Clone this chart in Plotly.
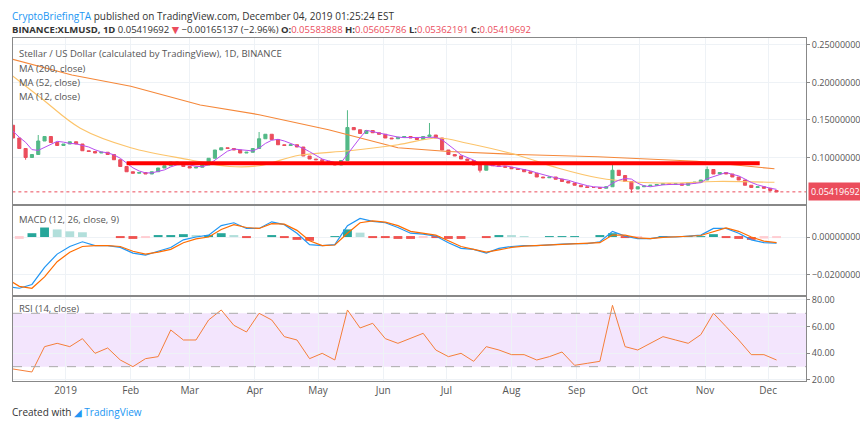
import pandas as pd
import plotly.graph_objects as go
from plotly.subplots import make_subplots

# ---- data (3-day candles) ----
candle_start = "2018-12-04"
closes = [0.143,0.126,0.112,0.100,0.104,0.122,0.128,0.120,0.116,0.118,
          0.121,0.118,0.109,0.108,0.106,0.107,0.104,0.097,0.088,0.081,
          0.079,0.080,0.078,0.081,0.086,0.089,0.094,0.092,0.088,0.086,
          0.087,0.090,0.099,0.110,0.113,0.112,0.110,0.106,0.107,0.112,
          0.125,0.131,0.124,0.117,0.116,0.117,0.114,0.102,0.098,0.097,
          0.095,0.092,0.090,0.096,0.140,0.137,0.132,0.136,0.133,0.131,
          0.126,0.125,0.127,0.128,0.126,0.124,0.128,0.130,0.126,0.110,
          0.104,0.102,0.098,0.096,0.090,0.083,0.092,0.089,0.088,0.087,
          0.085,0.084,0.081,0.079,0.074,0.073,0.074,0.071,0.068,0.066,
          0.063,0.061,0.060,0.060,0.059,0.061,0.083,0.076,0.068,0.058,
          0.061,0.062,0.063,0.064,0.065,0.064,0.065,0.063,0.066,0.067,
          0.070,0.084,0.078,0.080,0.078,0.074,0.070,0.063,0.060,0.061,
          0.059,0.056,0.0542]
first_open = 0.150
spike_highs = {54: 0.163, 67: 0.146, 96: 0.092, 111: 0.088, 40: 0.134, 5: 0.13}
spike_lows = {3: 0.097, 99: 0.053, 75: 0.080}

ma200_dates = ["2018-12-04","2019-01-04","2019-02-01","2019-03-06","2019-04-03","2019-05-06",
               "2019-06-08","2019-07-02","2019-08-04","2019-09-11","2019-10-28","2019-12-04"]
ma200_vals = [0.233,0.210,0.195,0.170,0.157,0.137,0.113,0.108,0.104,0.101,0.095,0.085]
ma52_dates = ["2018-12-04","2018-12-20","2019-01-08","2019-02-01","2019-03-01","2019-03-20",
              "2019-04-03","2019-04-22","2019-05-16","2019-06-08","2019-06-27","2019-07-11",
              "2019-08-04","2019-08-23","2019-09-11","2019-09-30","2019-10-18","2019-11-06","2019-12-04"]
ma52_vals = [0.215,0.180,0.139,0.113,0.097,0.088,0.089,0.103,0.109,0.117,0.126,0.119,
             0.103,0.086,0.073,0.067,0.066,0.068,0.067]

macd_vals = [-0.026,-0.027,-0.025,-0.016,-0.009,-0.005,-0.0025,-0.0045,-0.0045,-0.0055,
             -0.0085,-0.0095,-0.0075,-0.0055,-0.0015,0.0,0.001,0.006,0.0075,0.0045,
             0.0045,0.008,0.0065,0.002,-0.004,-0.0045,-0.004,0.006,0.0098,0.0082,
             0.0075,0.005,0.002,0.0015,0.0005,-0.003,-0.006,-0.0065,-0.0085,-0.006,
             -0.005,-0.0045,-0.0045,-0.004,-0.0038,-0.0035,-0.0035,-0.0025,0.003,0.0005,
             -0.0008,-0.0008,0.0002,0.0,0.0005,0.001,0.0045,0.0045,0.002,-0.0015,
             -0.003,-0.0032]
signal_vals = [-0.022,-0.026,-0.027,-0.021,-0.013,-0.008,-0.005,-0.0045,-0.0045,-0.005,
               -0.0075,-0.009,-0.008,-0.0065,-0.003,-0.001,0.0,0.004,0.0065,0.005,
               0.0045,0.007,0.0068,0.0035,-0.002,-0.0045,-0.0042,0.002,0.0075,0.0085,
               0.0078,0.006,0.003,0.002,0.001,-0.002,-0.005,-0.0065,-0.008,-0.0068,
               -0.0055,-0.0048,-0.0045,-0.0042,-0.004,-0.0037,-0.0035,-0.003,0.001,0.001,
               -0.0005,-0.0008,-0.0002,0.0,0.0004,0.0008,0.003,0.0048,0.003,0.0,
               -0.0022,-0.003]
rsi_vals = [29,27.5,26,45,47.5,45,51,40,44,35,30,36,37.5,57.5,50,50,65,72.5,61,56,
            70,65,52.5,50,36,40,35,72.5,59,62.5,51,47.5,51,55,42.5,37.5,40,34,45,42.5,
            39,39,35,37.5,41,31,32.5,34,76,45,42.5,47.5,52.5,50,47.5,54,70,60,50,39,39,35]

level_line = {"start": "2019-01-30", "end": "2019-11-27", "price": 0.0925}
month_ticks = ["2019-01-01","2019-02-01","2019-03-01","2019-04-01","2019-05-01","2019-06-01",
               "2019-07-01","2019-08-01","2019-09-01","2019-10-01","2019-11-01","2019-12-01"]
month_labels = ["2019","Feb","Mar","Apr","May","Jun","Jul","Aug","Sep","Oct","Nov","Dec"]

# ---- build series ----
dates = pd.date_range(candle_start, periods=len(closes), freq="3D")
opens = [first_open] + closes[:-1]
highs = [spike_highs.get(i, max(o, c)) for i, (o, c) in enumerate(zip(opens, closes))]
lows = [spike_lows.get(i, min(o, c)) for i, (o, c) in enumerate(zip(opens, closes))]
ma12 = pd.Series(closes).rolling(4, min_periods=1).mean()
ind_dates = dates[::2]
hist = [m - s for m, s in zip(macd_vals, signal_vals)]
hcol = []
for i, h in enumerate(hist):
    prev = hist[i - 1] if i else h
    if h >= 0:
        hcol.append("#26a69a" if h >= prev else "#b2dfdb")
    else:
        hcol.append("#ef5350" if h <= prev else "#ffcdd2")

fig = make_subplots(rows=3, cols=1, shared_xaxes=True, vertical_spacing=0.0)
UP, DN = "#53b987", "#eb4d5c"
fig.add_trace(go.Candlestick(x=dates, open=opens, high=highs, low=lows, close=closes,
                             increasing=dict(line=dict(color=UP, width=1), fillcolor=UP),
                             decreasing=dict(line=dict(color=DN, width=1), fillcolor=DN),
                             whiskerwidth=0, showlegend=False), row=1, col=1)
fig.add_trace(go.Scatter(x=ma200_dates, y=ma200_vals, mode="lines", line=dict(color="#f5883a", width=1.2), showlegend=False), row=1, col=1)
fig.add_trace(go.Scatter(x=ma52_dates, y=ma52_vals, mode="lines", line=dict(color="#fcc46b", width=1.2, shape="spline"), showlegend=False), row=1, col=1)
fig.add_trace(go.Scatter(x=dates, y=ma12, mode="lines", line=dict(color="#b84ef0", width=1), showlegend=False), row=1, col=1)
fig.add_trace(go.Scatter(x=[level_line["start"], level_line["end"]], y=[level_line["price"]] * 2, mode="lines",
                         line=dict(color="#ff0000", width=4), showlegend=False), row=1, col=1)
fig.add_trace(go.Scatter(x=["2018-12-01", "2019-12-25"], y=[closes[-1]] * 2, mode="lines",
                         line=dict(color="#eb4d5c", width=1, dash="dot"), showlegend=False), row=1, col=1)

fig.add_trace(go.Bar(x=ind_dates, y=hist, marker=dict(color=hcol, line=dict(width=0)), showlegend=False), row=2, col=1)
fig.add_trace(go.Scatter(x=ind_dates, y=macd_vals, mode="lines", line=dict(color="#2196f3", width=1.2), showlegend=False), row=2, col=1)
fig.add_trace(go.Scatter(x=ind_dates, y=signal_vals, mode="lines", line=dict(color="#ff6d00", width=1.2), showlegend=False), row=2, col=1)

fig.add_trace(go.Scatter(x=ind_dates, y=rsi_vals, mode="lines", line=dict(color="#f57f3a", width=1), showlegend=False), row=3, col=1)

xr = ["2018-12-07", "2019-12-19"]
fig.add_shape(type="rect", xref="paper", x0=0, x1=1, yref="y3", y0=30, y1=70,
              fillcolor="#f3e5fd", line=dict(width=0), layer="below")
for v in (30, 70):
    fig.add_shape(type="line", xref="paper", x0=0, x1=1, yref="y3", y0=v, y1=v,
                  line=dict(color="#aaaaaa", width=1, dash="dash"))

grid = "#eef2f6"
fig.update_layout(width=868, height=421, margin=dict(l=5, r=70, t=30, b=48),
                  paper_bgcolor="white", plot_bgcolor="white", bargap=0.3,
                  font=dict(family="Open Sans, DejaVu Sans", size=10, color="#555"))
axcommon = dict(range=xr, showgrid=True, gridcolor=grid, tickvals=month_ticks, ticktext=month_labels,
                showline=True, linecolor="#888", mirror=True, rangeslider=dict(visible=False), ticks="")
fig.update_xaxes(**axcommon)
fig.update_xaxes(showticklabels=False, row=1, col=1)
fig.update_xaxes(showticklabels=False, row=2, col=1)
fig.update_xaxes(showticklabels=True, tickfont=dict(size=10, color="#555"), row=3, col=1)
ycommon = dict(side="right", showgrid=True, gridcolor=grid, showline=True, linecolor="#888", mirror=True,
               tickfont=dict(size=9, color="#555"), zeroline=False, ticks="outside", ticklen=3, tickcolor="#888")
fig.update_yaxes(**ycommon)
fig.update_yaxes(domain=[0.516, 1.0], range=[0.038, 0.2593], tickvals=[0.10, 0.15, 0.20, 0.25],
                 tickformat=".8f", row=1, col=1)
fig.update_yaxes(domain=[0.251, 0.510], range=[-0.0305, 0.0163], tickvals=[-0.02, 0.0],
                 tickformat=".8f", row=2, col=1)
fig.update_yaxes(domain=[0.0, 0.245], range=[19.25, 82.25], tickvals=[20, 40, 60, 80],
                 tickformat=".2f", row=3, col=1)

def ann(x, y, text, size=10, color="#555", xanchor="left", **kw):
    fig.add_annotation(x=x, y=y, xref="paper", yref="paper", text=text, showarrow=False,
                       xanchor=xanchor, yanchor="middle", font=dict(size=size, color=color), **kw)

ann(-0.004, 1.063, '<span style="color:#2196f3">CryptoBriefingTA</span> published on TradingView.com, December 04, 2019 01:25:24 EST', size=10, color="#333")
ann(-0.004, 1.024, '<b>BINANCE:XLMUSD, 1D</b> 0.05419692 <span style="color:#eb4d5c">▼</span> −0.00165137 (−2.96%) '
    '<b>O:</b><span style="color:#eb4d5c">0.05583888</span> <b>H:</b><span style="color:#eb4d5c">0.05605786</span> '
    '<b>L:</b><span style="color:#eb4d5c">0.05362191</span> <b>C:</b><span style="color:#eb4d5c">0.05419692</span>', size=9.5, color="#333")
ann(0.005, 0.955, "Stellar / US Dollar (calculated by TradingView), 1D, BINANCE", size=9.5)
ann(0.005, 0.912, "MA (200, close)", size=9.5)
ann(0.005, 0.870, "MA (52, close)", size=9.5)
ann(0.005, 0.828, "MA (12, close)", size=9.5)
ann(0.005, 0.470, "MACD (12, 26, close, 9)", size=9.5)
ann(0.005, 0.210, "RSI (14, close)", size=9.5)
fig.add_annotation(x=1.002, xref="paper", y=closes[-1], yref="y", text="0.05419692", showarrow=False,
                   xanchor="left", bgcolor="#eb4d5c", font=dict(size=9, color="white"), borderpad=2)
ann(-0.004, -0.09, 'Created with <span style="color:#2196f3">◢ TradingView</span>', size=10, color="#333")

fig.write_html("out.html")
